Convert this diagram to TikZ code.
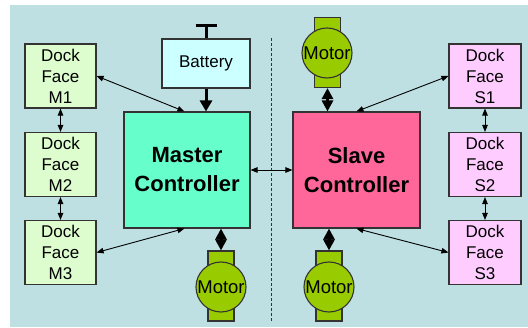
\documentclass[tikz,border=0pt]{standalone}
\usepackage{fontspec}
\setmainfont{Liberation Sans}
\usetikzlibrary{arrows.meta,calc}
\definecolor{bgc}{HTML}{BEE0E3}
\definecolor{dockm}{HTML}{DDFDCF}
\definecolor{docks}{HTML}{FFCCFF}
\definecolor{batc}{HTML}{CCFFFF}
\definecolor{masterc}{HTML}{66FFCC}
\definecolor{slavec}{HTML}{FF6699}
\definecolor{motorc}{HTML}{99CC00}
\definecolor{edgec}{HTML}{333333}
\tikzset{
  box/.style={draw=edgec, line width=1.1pt, rectangle, inner sep=0pt, align=center},
  dockm/.style={box, fill=dockm, minimum width=71pt, minimum height=64pt, font=\fontsize{17}{21}\selectfont},
  docks/.style={box, fill=docks, minimum width=72pt, minimum height=64pt, font=\fontsize{17}{21}\selectfont},
  ctrl/.style={box, minimum width=126pt, minimum height=116pt, font=\bfseries\fontsize{22}{29}\selectfont},
  mbody/.style={draw=edgec, line width=1.1pt, fill=motorc, minimum width=26pt, minimum height=70pt, inner sep=0pt},
  mcirc/.style={draw=edgec, line width=1.1pt, fill=motorc, circle, minimum size=50pt, inner sep=0pt, font=\fontsize{18.5}{18.5}\selectfont},
  thin/.style={line width=0.9pt, {Triangle[length=7pt,width=5.5pt]}-{Triangle[length=7pt,width=5.5pt]}},
  thick2/.style={line width=3pt, {Triangle[length=11pt,width=11pt]}-{Triangle[length=11pt,width=11pt]}},
}
\begin{document}
\begin{tikzpicture}[x=1pt,y=-1pt]
\useasboundingbox (0,0) rectangle (528,328);
\fill[bgc] (10,5) rectangle (528,327);
% dock faces
\node[dockm] (m1) at (60.5,76) {Dock\\Face\\M1};
\node[dockm] (m2) at (60.5,164.5) {Dock\\Face\\M2};
\node[dockm] (m3) at (60.5,252.5) {Dock\\Face\\M3};
\node[docks] (s1) at (485,76) {Dock\\Face\\S1};
\node[docks] (s2) at (485,164.5) {Dock\\Face\\S2};
\node[docks] (s3) at (485,252.5) {Dock\\Face\\S3};
% battery
\node[box, fill=batc, minimum width=88pt, minimum height=49pt, font=\fontsize{17}{20}\selectfont] (bat) at (206,63.5) {Battery};
\coordinate (tbar) at (206,25.5);
\draw[line width=3pt] (bat.north) -- (tbar);
\draw[line width=3.5pt] ($(tbar)+(-10.5,0)$) coordinate (tl) -- ($(tbar)+(10.5,0)$) coordinate (tr);
% controllers
\node[ctrl, fill=masterc] (master) at (187,170) {Master\\Controller};
\node[ctrl, fill=slavec, minimum width=127pt] (slave) at (356.5,170) {Slave\\Controller};
% motors
\node[mbody] (mb1) at (327.5,52.5) {};
\node[mcirc] (mc1) at (327,53) {Motor};
\node[mbody] (mb2) at (221,286) {};
\node[mcirc] (mc2) at (221,287) {Motor};
\node[mbody] (mb3) at (329,286) {};
\node[mcirc] (mc3) at (329,287) {Motor};
% divider
\coordinate (dtop) at (271,38);
\coordinate (dbot) at (271,322);
\draw[line width=1pt, dash pattern=on 3pt off 2pt, edgec] (dtop) -- (dbot);
% connections
\draw[line width=3pt, -{Triangle[length=11pt,width=12pt]}] (bat.south) -- (bat.south |- master.north);
\draw[thick2] (mb1.south) -- (mb1.south |- slave.north);
\draw[thick2] (mb2.north) -- (mb2.north |- master.south);
\draw[thick2] (mb3.north) -- (mb3.north |- slave.south);
\coordinate (mtn) at ($(master.north west)+(61,0)$);
\coordinate (mts) at ($(master.south west)+(61,0)$);
\coordinate (stn) at ($(slave.north west)+(64,0)$);
\coordinate (sts) at ($(slave.south west)+(64,0)$);
\draw[thin] (m1.east) -- (mtn);
\draw[thin] (m3.east) -- (mts);
\draw[thin] (s1.west) -- (stn);
\draw[thin] (s3.west) -- (sts);
\draw[thin] (master.east) -- (slave.west);
\draw[thin] (m1.south) -- (m2.north);
\draw[thin] (m2.south) -- (m3.north);
\draw[thin] (s1.south) -- (s2.north);
\draw[thin] (s2.south) -- (s3.north);
\end{tikzpicture}
\end{document}
